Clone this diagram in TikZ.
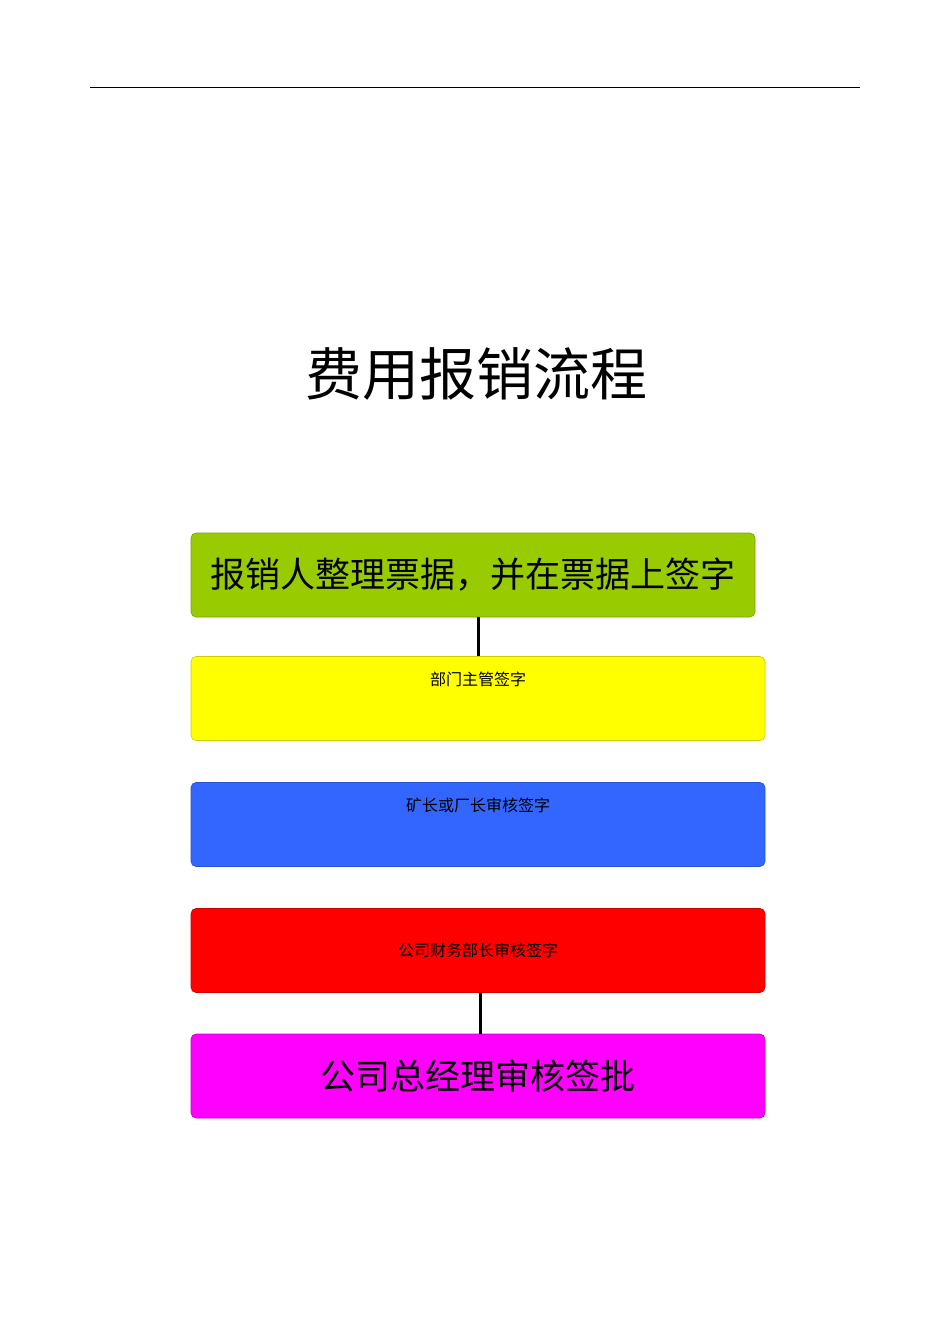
\documentclass[tikz,border=0pt]{standalone}
\usepackage{fontspec}
\setmainfont{Noto Sans CJK SC}
\usepackage{tikz}

\definecolor{signgreen}{RGB}{153,204,0}
\definecolor{deptyellow}{RGB}{255,255,0}
\definecolor{plantblue}{RGB}{51,102,255}
\definecolor{finred}{RGB}{255,0,0}
\definecolor{gmmagenta}{RGB}{255,0,255}

\begin{document}
\begin{tikzpicture}[x=1pt,y=-1pt,stepbox/.style={shape=rectangle,rounded corners=5pt,line width=0.6pt,minimum height=84pt,inner sep=0pt,font=\fontsize{16}{18}\selectfont},bigtext/.style={font=\fontsize{35}{40}\selectfont},toptext/.style={text height=12pt,text depth=39pt},link/.style={line width=3pt}]
\def\bx{191};
\def\bw{574};

\useasboundingbox (0,0) rectangle (950,1344);
\draw[line width=1pt] (90,87) -- (860,87);

\node[font=\fontsize{57}{62}\selectfont] (title) at (476,374) {费用报销流程};

\node[stepbox,bigtext,fill=signgreen,draw=signgreen!80!black,minimum width=564pt] (sign) at (473,575) {报销人整理票据，并在票据上签字};
\node[stepbox,toptext,fill=deptyellow,draw=deptyellow!80!black,minimum width=\bw pt] (dept) at (\bx+0.5*\bw,698.5) {部门主管签字};
\node[stepbox,toptext,fill=plantblue,draw=plantblue!80!black,minimum width=\bw pt] (plant) at (\bx+0.5*\bw,824.5) {矿长或厂长审核签字};
\node[stepbox,fill=finred,draw=finred!80!black,minimum width=\bw pt] (fin) at (\bx+0.5*\bw,950.5) {公司财务部长审核签字};
\node[stepbox,bigtext,fill=gmmagenta,draw=gmmagenta!80!black,minimum width=\bw pt] (gm) at (\bx+0.5*\bw,1076) {公司总经理审核签批};

\draw[link] (dept.north |- sign.south) -- (dept.north);
\draw[link] ([xshift=2pt]fin.south) -- ([xshift=2pt]gm.north);
\end{tikzpicture}
\end{document}
